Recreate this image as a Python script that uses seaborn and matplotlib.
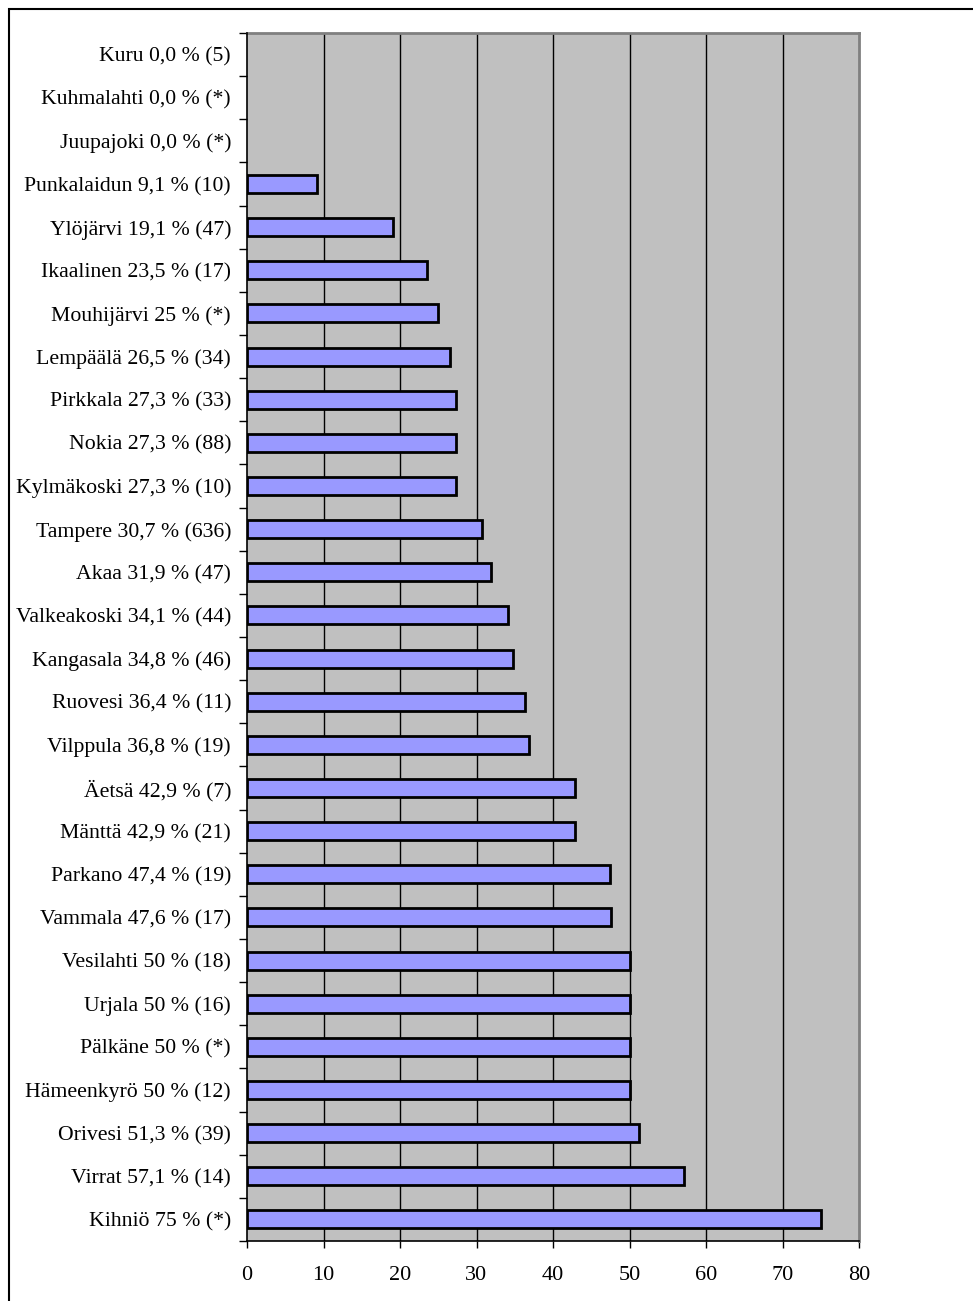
import matplotlib
matplotlib.use("Agg")
import matplotlib.pyplot as plt
import matplotlib.patches as mpatches
import numpy as np
import pandas as pd
import seaborn as sns

labels = [
    "Kuru 0,0 % (5)", "Kuhmalahti 0,0 % (*)", "Juupajoki 0,0 % (*)",
    "Punkalaidun 9,1 % (10)", "Ylöjärvi 19,1 % (47)", "Ikaalinen 23,5 % (17)",
    "Mouhijärvi 25 % (*)", "Lempäälä 26,5 % (34)", "Pirkkala 27,3 % (33)",
    "Nokia 27,3 % (88)", "Kylmäkoski 27,3 % (10)", "Tampere 30,7 % (636)",
    "Akaa 31,9 % (47)", "Valkeakoski 34,1 % (44)", "Kangasala 34,8 % (46)",
    "Ruovesi 36,4 % (11)", "Vilppula 36,8 % (19)", "Äetsä 42,9 % (7)",
    "Mänttä 42,9 % (21)", "Parkano 47,4 % (19)", "Vammala 47,6 % (17)",
    "Vesilahti 50 % (18)", "Urjala 50 % (16)", "Pälkäne 50 % (*)",
    "Hämeenkyrö 50 % (12)", "Orivesi 51,3 % (39)", "Virrat 57,1 % (14)",
    "Kihniö 75 % (*)",
]
values = [
    0.0, 0.0, 0.0, 9.1, 19.1, 23.5, 25.0, 26.5, 27.3, 27.3, 27.3, 30.7,
    31.9, 34.1, 34.8, 36.4, 36.8, 42.9, 42.9, 47.4, 47.6, 50.0, 50.0, 50.0,
    50.0, 51.3, 57.1, 75.0,
]
xticks = [0, 10, 20, 30, 40, 50, 60, 70, 80]

df = pd.DataFrame({"label": labels, "value": values})

sns.set_theme(style="white")
plt.rcParams["font.family"] = ["Liberation Serif", "DejaVu Serif"]

W, H = 973, 1301
fig = plt.figure(figsize=(W / 100, H / 100), dpi=100)
fig.patch.set_facecolor("white")

left, right, top, bottom = 247, 859, 33, 1241
ax = fig.add_axes([left / W, 1 - bottom / H, (right - left) / W, (bottom - top) / H])
ax.set_facecolor("#C0C0C0")

sns.barplot(data=df, x="value", y="label", order=labels, orient="h",
            color="#9999FF", edgecolor="black", linewidth=2.0, width=0.42,
            saturation=1, ax=ax, zorder=3)
for p in ax.patches:
    if p.get_width() == 0:
        p.set_linewidth(0)

ax.set_xlim(0, 80)
ax.set_ylim(len(labels) - 0.5, -0.5)
ax.set_xticks(xticks)
ax.set_xticklabels([str(t) for t in xticks])
for t in xticks[1:-1]:
    ax.axvline(t, color="black", linewidth=1.0, zorder=1)

ax.set_xlabel("")
ax.set_ylabel("")

ax.set_yticks(np.arange(len(labels)))
ax.set_yticks(np.arange(-0.5, len(labels), 1.0), minor=True)
ax.tick_params(axis="y", which="major", length=0, pad=11.5, labelsize=15.7, colors="black")
ax.tick_params(axis="y", which="minor", length=6, width=1.0, direction="out", left=True, color="black")
ax.tick_params(axis="x", which="major", length=5, width=1.0, direction="out", bottom=True,
               pad=13, labelsize=16, colors="black")

for s in ["left", "bottom"]:
    ax.spines[s].set_color("black")
    ax.spines[s].set_linewidth(1.2)
    ax.spines[s].set_zorder(5)
for s in ["top", "right"]:
    ax.spines[s].set_visible(True)
    ax.spines[s].set_color("#808080")
    ax.spines[s].set_linewidth(2.0)

frame = mpatches.Rectangle((9 / W, -0.05), 1.2, 1 - 9 / H + 0.05, transform=fig.transFigure,
                           fill=False, edgecolor="black", linewidth=1.5, clip_on=False)
fig.add_artist(frame)

fig.savefig("out.png", dpi=100)
